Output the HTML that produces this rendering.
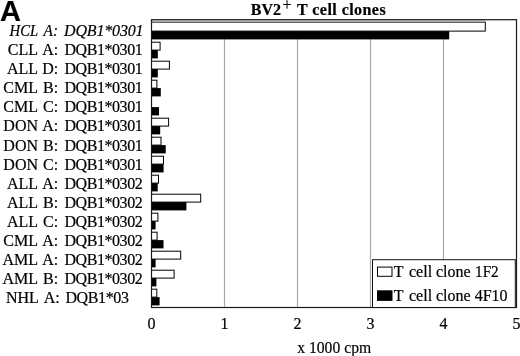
<!DOCTYPE html>
<html><head><meta charset="utf-8"><style>
html,body{margin:0;padding:0;background:#fff;width:520px;height:356px;overflow:hidden}
svg{display:block;will-change:transform}
text{font-family:"Liberation Serif",serif;fill:#000;font-size:16px;stroke:#000;stroke-width:0.2px;}
.e{text-anchor:end}
</style></head><body>
<svg width="520" height="356" viewBox="0 0 520 356">

<line x1="224.50" y1="22.5" x2="224.50" y2="307.5" stroke="#a8a8a8" stroke-width="1.2"/>
<line x1="297.50" y1="22.5" x2="297.50" y2="307.5" stroke="#a8a8a8" stroke-width="1.2"/>
<line x1="370.50" y1="22.5" x2="370.50" y2="307.5" stroke="#a8a8a8" stroke-width="1.2"/>
<line x1="443.50" y1="22.5" x2="443.50" y2="307.5" stroke="#a8a8a8" stroke-width="1.2"/>
<rect x="151.50" y="22.10" width="333.80" height="9.00" fill="#fff" stroke="#000" stroke-width="1"/>
<rect x="151.50" y="31.10" width="297.70" height="8.30" fill="#000"/>
<rect x="151.50" y="20.3" width="333.70" height="1.3" fill="#b8b8b8"/>
<rect x="151.50" y="42.20" width="8.60" height="7.90" fill="#fff" stroke="#000" stroke-width="1"/>
<rect x="151.50" y="50.10" width="6.30" height="8.30" fill="#000"/>
<rect x="151.50" y="61.20" width="17.90" height="7.90" fill="#fff" stroke="#000" stroke-width="1"/>
<rect x="151.50" y="69.10" width="6.30" height="8.30" fill="#000"/>
<rect x="151.50" y="80.20" width="5.40" height="7.90" fill="#fff" stroke="#000" stroke-width="1"/>
<rect x="151.50" y="88.10" width="9.30" height="8.30" fill="#000"/>
<rect x="151.50" y="107.10" width="7.50" height="8.30" fill="#000"/>
<rect x="151.50" y="118.20" width="17.10" height="7.90" fill="#fff" stroke="#000" stroke-width="1"/>
<rect x="151.50" y="126.10" width="8.70" height="8.30" fill="#000"/>
<rect x="151.50" y="137.20" width="9.50" height="7.90" fill="#fff" stroke="#000" stroke-width="1"/>
<rect x="151.50" y="145.10" width="14.20" height="8.30" fill="#000"/>
<rect x="151.50" y="156.20" width="12.00" height="7.90" fill="#fff" stroke="#000" stroke-width="1"/>
<rect x="151.50" y="164.10" width="12.10" height="8.30" fill="#000"/>
<rect x="151.50" y="175.20" width="7.00" height="7.90" fill="#fff" stroke="#000" stroke-width="1"/>
<rect x="151.50" y="183.10" width="6.20" height="8.30" fill="#000"/>
<rect x="151.50" y="194.20" width="49.20" height="7.90" fill="#fff" stroke="#000" stroke-width="1"/>
<rect x="151.50" y="202.10" width="34.90" height="8.30" fill="#000"/>
<rect x="151.50" y="213.20" width="6.40" height="7.90" fill="#fff" stroke="#000" stroke-width="1"/>
<rect x="151.50" y="221.10" width="4.10" height="8.30" fill="#000"/>
<rect x="151.50" y="232.20" width="5.60" height="7.90" fill="#fff" stroke="#000" stroke-width="1"/>
<rect x="151.50" y="240.10" width="12.00" height="8.30" fill="#000"/>
<rect x="151.50" y="251.20" width="29.20" height="7.90" fill="#fff" stroke="#000" stroke-width="1"/>
<rect x="151.50" y="259.10" width="4.10" height="8.30" fill="#000"/>
<rect x="151.50" y="270.20" width="22.60" height="7.90" fill="#fff" stroke="#000" stroke-width="1"/>
<rect x="151.50" y="278.10" width="4.90" height="8.30" fill="#000"/>
<rect x="151.50" y="289.20" width="5.30" height="7.90" fill="#fff" stroke="#000" stroke-width="1"/>
<rect x="151.50" y="297.10" width="8.10" height="8.30" fill="#000"/>
<g font-style="italic"><text x="9.6" y="36.10" textLength="28.6" lengthAdjust="spacingAndGlyphs">HCL</text><text x="43.6" y="36.10" textLength="14.4" lengthAdjust="spacingAndGlyphs">A:</text><text x="64.0" y="36.10" textLength="79.6" lengthAdjust="spacing">DQB1*0301</text></g>
<text class="e" x="38.0" y="55.17">CLL</text><text class="e" x="58.2" y="55.17">A:</text><text x="64.45" y="55.17" textLength="78.3" lengthAdjust="spacing">DQB1*0301</text>
<text class="e" x="38.0" y="74.24">ALL</text><text class="e" x="58.2" y="74.24">D:</text><text x="64.45" y="74.24" textLength="78.3" lengthAdjust="spacing">DQB1*0301</text>
<text class="e" x="38.0" y="93.31">CML</text><text class="e" x="58.2" y="93.31">B:</text><text x="64.45" y="93.31" textLength="78.3" lengthAdjust="spacing">DQB1*0301</text>
<text class="e" x="38.0" y="112.38">CML</text><text class="e" x="58.2" y="112.38">C:</text><text x="64.45" y="112.38" textLength="78.3" lengthAdjust="spacing">DQB1*0301</text>
<text class="e" x="38.0" y="131.45">DON</text><text class="e" x="58.2" y="131.45">A:</text><text x="64.45" y="131.45" textLength="78.3" lengthAdjust="spacing">DQB1*0301</text>
<text class="e" x="38.0" y="150.52">DON</text><text class="e" x="58.2" y="150.52">B:</text><text x="64.45" y="150.52" textLength="78.3" lengthAdjust="spacing">DQB1*0301</text>
<text class="e" x="38.0" y="169.59">DON</text><text class="e" x="58.2" y="169.59">C:</text><text x="64.45" y="169.59" textLength="78.3" lengthAdjust="spacing">DQB1*0301</text>
<text class="e" x="38.0" y="188.66">ALL</text><text class="e" x="58.2" y="188.66">A:</text><text x="64.45" y="188.66" textLength="78.3" lengthAdjust="spacing">DQB1*0302</text>
<text class="e" x="38.0" y="207.73">ALL</text><text class="e" x="58.2" y="207.73">B:</text><text x="64.45" y="207.73" textLength="78.3" lengthAdjust="spacing">DQB1*0302</text>
<text class="e" x="38.0" y="226.80">ALL</text><text class="e" x="58.2" y="226.80">C:</text><text x="64.45" y="226.80" textLength="78.3" lengthAdjust="spacing">DQB1*0302</text>
<text class="e" x="38.0" y="245.87">CML</text><text class="e" x="58.2" y="245.87">A:</text><text x="64.45" y="245.87" textLength="78.3" lengthAdjust="spacing">DQB1*0302</text>
<text class="e" x="38.0" y="264.94">AML</text><text class="e" x="58.2" y="264.94">A:</text><text x="64.45" y="264.94" textLength="78.3" lengthAdjust="spacing">DQB1*0302</text>
<text class="e" x="38.0" y="284.01">AML</text><text class="e" x="58.2" y="284.01">B:</text><text x="64.45" y="284.01" textLength="78.3" lengthAdjust="spacing">DQB1*0302</text>
<text class="e" x="38.8" y="303.08">NHL</text><text class="e" x="59.8" y="303.08">A:</text><text x="65.4" y="303.08" textLength="63.6" lengthAdjust="spacing">DQB1*03</text>
<rect x="151.5" y="19.7" width="365.00" height="287.80" fill="none" stroke="#1a1a1a" stroke-width="1.2"/>
<rect x="372.5" y="259.7" width="142.80" height="47.80" fill="#fff" stroke="#111" stroke-width="1"/>
<rect x="377.5" y="267.1" width="14.5" height="9.2" fill="#fff" stroke="#000" stroke-width="1"/>
<rect x="377.0" y="290.3" width="15.5" height="10.6" fill="#000"/>
<text y="277.1"><tspan x="393.8">T</tspan><tspan x="409.0">cell</tspan><tspan x="436.0">clone</tspan><tspan x="475.1" textLength="23.6" lengthAdjust="spacingAndGlyphs">1F2</tspan></text>
<text y="301.2"><tspan x="393.8">T</tspan><tspan x="409.0">cell</tspan><tspan x="436.0">clone</tspan><tspan x="474.7">4F10</tspan></text>
<text x="151.50" y="328.5" text-anchor="middle">0</text>
<text x="224.50" y="328.5" text-anchor="middle">1</text>
<text x="297.50" y="328.5" text-anchor="middle">2</text>
<text x="370.50" y="328.5" text-anchor="middle">3</text>
<text x="443.50" y="328.5" text-anchor="middle">4</text>
<text x="516.50" y="328.5" text-anchor="middle">5</text>
<text x="297.2" y="352.5" textLength="74" lengthAdjust="spacingAndGlyphs">x 1000 cpm</text>
<text x="250.8" y="15.3" font-weight="bold">BV2</text>
<text x="282.6" y="10.1" style="font-size:16px">+</text>
<text x="297" y="15.3" font-weight="bold" letter-spacing="0.45">T cell clones</text>
<text x="0.0" y="20.7" font-weight="bold" style="font-family:'Liberation Sans',sans-serif;font-size:29px">A</text>
</svg>
</body></html>
